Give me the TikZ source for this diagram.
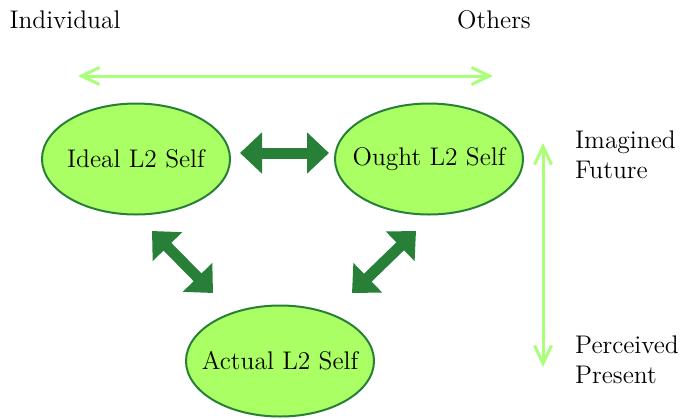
\documentclass[tikz,border=0pt]{standalone}
\usetikzlibrary{arrows.meta,shapes.geometric}
\definecolor{selffill}{RGB}{170,255,100}
\definecolor{selfline}{RGB}{40,128,56}
\definecolor{axisgreen}{RGB}{170,255,120}
\begin{document}
\begin{tikzpicture}[
  every node/.style={font=\fontsize{14.5}{17}\selectfont},
  self/.style={ellipse,draw=selfline,line width=0.04cm,fill=selffill,
    inner ysep=0pt,inner xsep=-0.4cm,minimum width=3.76cm,minimum height=2.22cm},
  link/.style={{Triangle[length=0.44cm,width=0.8cm]}-{Triangle[length=0.44cm,width=0.8cm]},
    line width=0.22cm,color=selfline},
  axis/.style={{Straight Barb[length=0.36cm,width=0.34cm]}-{Straight Barb[length=0.36cm,width=0.34cm]},
    line width=0.06cm,color=axisgreen}]
  \useasboundingbox (0,0) rectangle (13.6,8.36);

  \node[self] (ideal) at (2.72,5.18) {Ideal L2 Self};
  \node[self] (ought) at (8.58,5.18) {Ought L2 Self};
  \node[self] (actual) at (5.60,1.14) {Actual L2 Self};

  \node (individual) at (1.30,7.96) {Individual};
  \node (others) at (9.88,7.96) {Others};
  \node[anchor=west,align=left] (future) at (11.38,5.26) {Imagined\\Future};
  \node[anchor=west,align=left] (present) at (11.38,1.16) {Perceived\\Present};

  % ends of the arrows
  \coordinate (io) at (4.80,5.30);
  \coordinate (oi) at (6.58,5.30);
  \coordinate (ia) at (3.04,3.74);
  \coordinate (ai) at (4.26,2.50);
  \coordinate (oa) at (8.32,3.74);
  \coordinate (ao) at (7.04,2.50);
  \coordinate (left) at (1.56,6.84);
  \coordinate (right) at (9.86,6.84);
  \coordinate (top) at (10.86,5.50);
  \coordinate (bottom) at (10.86,1.02);

  \draw[link] (io) -- (oi);
  \draw[link] (ia) -- (ai);
  \draw[link] (oa) -- (ao);
  \draw[axis] (left) -- (right);
  \draw[axis] (top) -- (bottom);
\end{tikzpicture}
\end{document}
